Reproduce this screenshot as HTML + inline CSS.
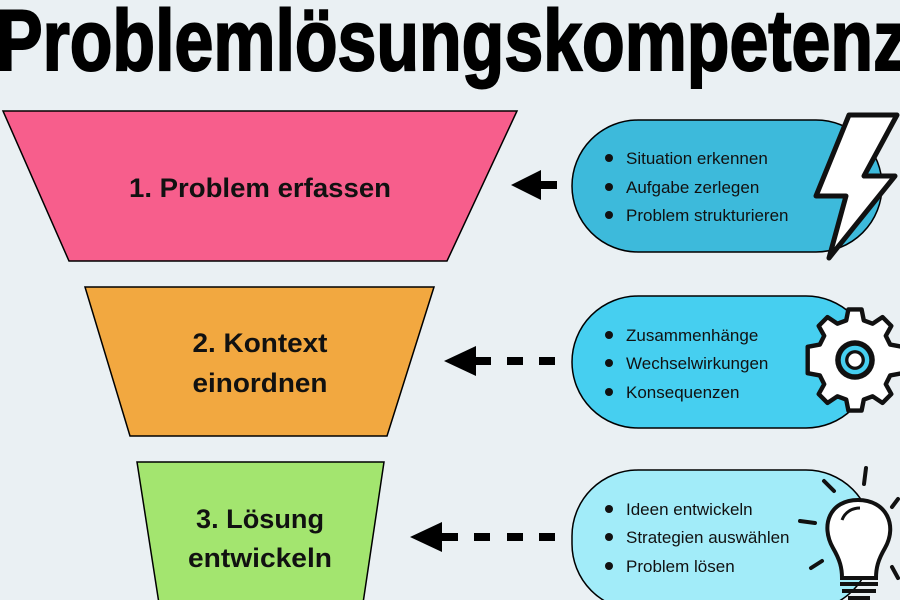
<!DOCTYPE html>
<html><head><meta charset="utf-8"><style>
html,body{margin:0;padding:0;background:#eaf0f3;}
svg{display:block}
</style></head><body>
<svg width="900" height="600" viewBox="0 0 900 600" xmlns="http://www.w3.org/2000/svg" font-family="Liberation Sans, sans-serif">
<rect width="900" height="600" fill="#eaf0f3"/>
<text x="-4" y="70" font-size="86" font-weight="bold" textLength="912" lengthAdjust="spacingAndGlyphs" fill="#000" stroke="#000" stroke-width="2">Problemlösungskompetenz</text>

<polygon points="3,111 517,111 447,261 69,261" fill="#f75e8c" stroke="#000" stroke-width="1.5"/>
<polygon points="85,287 434,287 387,436 130,436" fill="#f2a840" stroke="#000" stroke-width="1.5"/>
<polygon points="137,462 384,462 362,610 160,610" fill="#a3e56f" stroke="#000" stroke-width="1.5"/>

<g font-weight="bold" font-size="27" text-anchor="middle" fill="#111">
<text x="260" y="197" textLength="262" lengthAdjust="spacingAndGlyphs">1. Problem erfassen</text>
<text x="260" y="352" textLength="135" lengthAdjust="spacingAndGlyphs">2. Kontext</text>
<text x="260" y="392" textLength="135" lengthAdjust="spacingAndGlyphs">einordnen</text>
<text x="260" y="528" textLength="128" lengthAdjust="spacingAndGlyphs">3. Lösung</text>
<text x="260" y="567" textLength="144" lengthAdjust="spacingAndGlyphs">entwickeln</text>
</g>

<g fill="#000">
<polygon points="511,185 541,170 541,200"/><rect x="540" y="181" width="17" height="8"/>
<polygon points="444,361 476,346 476,376"/><rect x="475" y="357" width="16" height="8"/><rect x="507" y="357" width="16" height="8"/><rect x="539" y="357" width="16" height="8"/>
<polygon points="410,537 442,522 442,552"/><rect x="441" y="533" width="17" height="8"/><rect x="474" y="533" width="16" height="8"/><rect x="507" y="533" width="16" height="8"/><rect x="539" y="533" width="16" height="8"/>
</g>

<rect x="572" y="120" width="310" height="132" rx="66" fill="#3dbadb" stroke="#000" stroke-width="1.5"/>
<rect x="572" y="296" width="300" height="132" rx="66" fill="#46cff0" stroke="#000" stroke-width="1.5"/>
<rect x="572" y="470" width="300" height="140" rx="66" fill="#a2ecf9" stroke="#000" stroke-width="1.5"/>

<g font-size="17" fill="#111">
<circle cx="609" cy="158" r="4"/><text x="626" y="164">Situation erkennen</text>
<circle cx="609" cy="187" r="4"/><text x="626" y="193">Aufgabe zerlegen</text>
<circle cx="609" cy="215" r="4"/><text x="626" y="221">Problem strukturieren</text>
<circle cx="609" cy="335" r="4"/><text x="626" y="341">Zusammenhänge</text>
<circle cx="609" cy="363" r="4"/><text x="626" y="369">Wechselwirkungen</text>
<circle cx="609" cy="392" r="4"/><text x="626" y="398">Konsequenzen</text>
<circle cx="609" cy="509" r="4"/><text x="626" y="515">Ideen entwickeln</text>
<circle cx="609" cy="537" r="4"/><text x="626" y="543">Strategien auswählen</text>
<circle cx="609" cy="566" r="4"/><text x="626" y="572">Problem lösen</text>
</g>

<polygon points="849,115 897,115 864,176 895,176 829,258 846,196 816,196" fill="#fff" stroke="#111" stroke-width="5" stroke-linejoin="round"/>

<g transform="translate(855,360) scale(1.1)">
<path d="M-6,-46 L6,-46 L8,-36 L16,-33 L25,-39 L33,-31 L28,-22 L32,-14 L43,-12 L43,0 L43,12 L32,14 L28,22 L33,31 L25,39 L16,33 L8,36 L6,46 L-6,46 L-8,36 L-16,33 L-25,39 L-33,31 L-28,22 L-32,14 L-43,12 L-43,-12 L-32,-14 L-28,-22 L-33,-31 L-25,-39 L-16,-33 L-8,-36 Z" fill="#fff" stroke="#111" stroke-width="4" stroke-linejoin="round"/>
<circle r="18" fill="#111"/><circle r="13" fill="#46cff0"/><circle r="9" fill="#111"/><circle r="6" fill="#fff"/>
</g>

<g stroke="#111" stroke-width="4" stroke-linecap="round" fill="none">
<line x1="866" y1="468" x2="864" y2="484"/>
<line x1="824" y1="481" x2="834" y2="491"/>
<line x1="898" y1="499" x2="892" y2="507"/>
<line x1="800" y1="521" x2="815" y2="523"/>
<line x1="811" y1="568" x2="822" y2="561"/>
<line x1="892" y1="567" x2="898" y2="578"/>
</g>
<path d="M858,500 C830,500 820,525 833,548 C840,560 842,568 842,578 L876,578 C876,568 878,560 885,548 C898,525 886,500 858,500 Z" fill="#fff" stroke="#111" stroke-width="4"/>
<path d="M842,520 C845,512 852,508 860,508" fill="none" stroke="#111" stroke-width="3"/>
<g stroke="#111" stroke-width="4"><line x1="840" y1="584" x2="878" y2="584"/><line x1="842" y1="591" x2="876" y2="591"/><line x1="848" y1="598" x2="870" y2="598"/></g>
</svg>
</body></html>
